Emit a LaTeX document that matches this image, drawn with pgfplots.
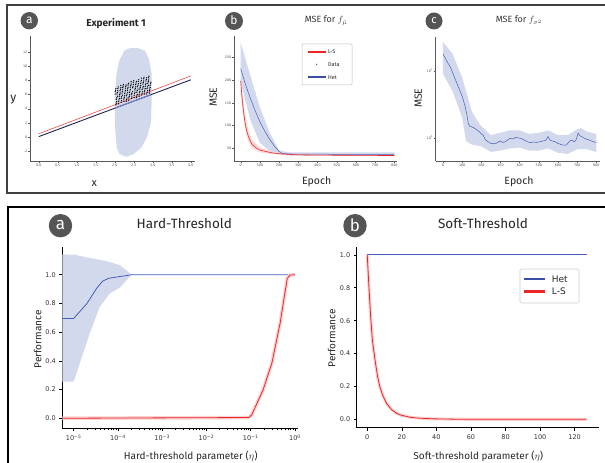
\documentclass[border=0pt]{standalone}
\usepackage{fontspec}
\setmainfont{Fira Sans}
\newfontfamily\tickfont{DejaVu Sans}
\usepackage{pgfplots}
\pgfplotsset{compat=1.18}

\definecolor{hetblue}{RGB}{58,78,168}
\definecolor{lineblue}{RGB}{70,92,188}
\definecolor{bandblue}{RGB}{211,217,236}
\definecolor{lsred}{RGB}{236,38,38}
\definecolor{bandred}{RGB}{250,208,208}
\definecolor{badge}{RGB}{85,85,85}
\definecolor{navy}{RGB}{28,34,82}

\pgfplotsset{
  topax/.style={scale only axis, anchor=south west,
    axis x line*=bottom, axis y line*=left, tick align=outside,
    major tick length=1.6pt, minor tick length=1pt,
    axis line style={black!65, line width=0.5pt},
    tick style={black!65, line width=0.4pt},
    tick label style={font=\tickfont\fontsize{3.3}{3.5}\selectfont, text=black!70, inner sep=1pt},
    /pgf/number format/assume math mode=true},
  botax/.style={scale only axis, anchor=south west,
    axis x line*=bottom, axis y line*=left, tick align=outside,
    major tick length=3pt, minor tick length=2pt,
    axis line style={black, line width=0.8pt},
    tick style={black, line width=0.6pt},
    tick label style={font=\tickfont\fontsize{6.5}{7}\selectfont, text=black!80},
    /pgf/number format/assume math mode=true},
}

% scatter of the data cloud in panel (a), estimated from the figure
\usepackage{pgfplotstable}
\pgfplotstableread{
x y
2.24 5.07
2.01 6.08
2.73 6.40
2.49 7.41
2.26 5.83
2.03 6.85
2.75 7.16
2.51 5.58
2.28 6.59
2.05 5.01
2.76 7.92
2.53 6.34
2.30 7.36
2.07 5.77
2.78 6.09
2.55 7.10
2.32 5.52
2.08 6.54
2.80 6.85
2.57 7.87
2.34 6.28
2.10 4.70
2.82 7.61
2.59 6.03
2.35 7.05
2.12 5.46
2.84 8.38
2.61 6.79
2.37 5.21
2.14 6.23
2.86 6.54
2.62 7.56
2.39 5.97
2.16 6.99
2.88 7.31
2.64 5.72
2.41 6.74
2.18 5.15
2.89 8.07
2.66 6.48
2.43 7.50
2.20 5.92
2.91 6.23
2.68 7.25
2.45 5.66
2.21 6.68
2.93 7.00
2.70 8.01
2.47 6.43
2.23 7.44
2.95 7.76
2.72 6.17
2.48 7.19
2.25 5.61
2.02 6.62
2.74 6.94
2.50 7.95
2.27 6.37
2.04 4.79
2.75 7.70
2.52 6.12
2.29 7.13
2.05 5.55
2.77 8.46
2.54 6.88
2.31 5.30
2.07 6.31
2.79 6.63
2.56 7.64
2.32 6.06
2.09 7.08
2.81 7.39
2.58 5.81
2.34 6.82
2.11 5.24
2.83 8.15
2.59 6.57
2.36 7.59
2.13 6.00
2.85 6.32
2.61 7.33
2.38 5.75
2.15 6.77
2.86 7.08
2.63 8.10
2.40 6.51
2.17 4.93
2.88 7.84
2.65 6.26
2.42 7.28
2.18 5.69
2.90 8.61
2.67 7.02
2.44 5.44
2.20 6.46
2.92 6.77
2.69 7.79
2.45 6.20
2.22 7.22
2.94 7.53
2.71 5.95
2.47 6.97
2.24 5.38
2.01 6.40
2.72 6.71
2.49 7.73
2.26 6.15
2.03 4.56
2.74 7.48
2.51 5.89
2.28 6.91
2.04 5.32
2.76 8.24
2.53 6.66
2.30 5.07
2.06 6.09
2.78 6.40
2.55 7.42
2.31 5.84
2.08 6.85
2.80 7.17
2.57 5.58
2.33 6.60
2.10 5.01
2.82 7.93
2.58 6.35
2.35 7.36
2.12 5.78
2.84 6.09
2.60 7.11
2.37 5.53
2.14 6.54
2.85 6.86
2.62 7.87
2.39 6.29
2.16 7.30
2.87 7.62
2.64 6.04
2.41 7.05
2.17 5.47
2.89 8.38
2.66 6.80
2.43 7.82
2.19 6.23
2.91 6.55
2.68 7.56
2.44 5.98
2.21 6.99
2.93 7.31
2.70 8.33
}\cloud

\begin{document}
\begin{tikzpicture}[x=1pt,y=1pt]
\path[use as bounding box] (0,0) rectangle (605,463);

% frames
\draw[line width=2pt, black!75] (606,270) -- (7,270) -- (7,458) -- (606,458);
\draw[line width=2pt, black] (8,-10) -- (8,256) -- (606,256);

% ---------- top a ----------
\begin{axis}[topax, at={(30pt,302pt)}, width=165pt, height=125pt,
  xmin=-0.229, xmax=4.11, ymin=-3.4, ymax=14.3,
  xtick={0,0.5,...,4}, ytick={-2,0,2,4,6,8,10,12},
  xticklabel={\pgfmathprintnumber[fixed,fixed zerofill,precision=1]{\tick}}]
\addplot[fill=bandblue, draw=none] coordinates {
 (2.05,-1.5) (2.12,-2.4) (2.3,-2.8) (2.5,-2.4) (2.7,-1.5) (2.85,0) (2.95,2)
 (2.97,5) (2.97,9) (2.9,11) (2.8,12.2) (2.6,12.6) (2.4,12.6) (2.25,12.2)
 (2.12,10.8) (2.05,9) (2.0,6) (2.0,2) (2.02,0.5)} -- cycle;
\addplot[navy, line width=0.9pt] coordinates {(0,0.05) (4,8.1)};
\addplot[lsred!85, line width=0.6pt] coordinates {(0,0.45) (4,8.65)};
\addplot[lineblue!75, line width=0.9pt] coordinates {(2.0,4.08) (2.95,5.99)};
\addplot[only marks, mark=*, mark size=0.4pt, mark options={draw=none, fill=black!55}] table {\cloud};
\end{axis}

% ---------- top b ----------
\begin{axis}[topax, at={(234pt,302pt)}, width=163pt, height=125pt,
  xmin=-35, xmax=814, ymin=22, ymax=297,
  xtick={0,100,...,800}, ytick={50,100,150,200,250}]
% Het band: upper edge then lower edge reversed
\addplot[fill=bandblue, draw=none] coordinates {
 (0,282) (50,210) (100,140) (150,85) (200,45) (250,41) (800,41)
 (800,33) (250,34) (200,37) (150,44) (100,62) (50,112) (0,195)} -- cycle;
% L-S band
\addplot[fill=bandred, fill opacity=0.85, draw=none] coordinates {
 (0,200) (10,165) (22,125) (40,90) (60,68) (100,52) (150,44) (213,39) (300,37) (800,36)
 (800,32.5) (300,33.5) (213,35.5) (150,38) (100,41) (60,50) (40,65) (22,95) (10,130) (0,175)} -- cycle;
\addplot[lineblue, line width=0.5pt] coordinates {
 (0,225) (25,190) (50,160) (75,133) (100,108) (125,88) (150,70) (175,55) (200,43) (215,38.5) (250,37.5) (300,37) (800,36.5)};
\addplot[lsred, line width=0.6pt] coordinates {
 (0,198) (5,170) (10,148) (15,130) (22,108) (30,90) (40,76) (48,68) (60,58) (83,50) (100,46) (135,42.5) (170,39.5) (213,37.5) (300,35.5) (370,35) (800,34)};
\end{axis}

% ---------- top c ----------
\begin{axis}[topax, at={(435.7pt,302pt)}, width=164.3pt, height=124pt,
  ymode=log, xmin=-38, xmax=819, ymin=0.454, ymax=32.1,
  xtick={0,100,...,800}, ytick={1,10},
  yticklabels={10\textsuperscript{0},10\textsuperscript{1}}]
\addplot[fill=bandblue, draw=none] coordinates {
 (0,27) (50,18) (100,8) (130,4) (150,2.5) (180,1.8) (200,1.5) (250,1.1) (300,1.2) (350,1.3) (400,1.3)
 (450,1.15) (500,1.2) (550,1.3) (600,1.1) (650,1.1) (700,1.35) (720,1.4) (750,1.25) (800,1.15)
 (800,0.62) (750,0.68) (700,0.68) (650,0.58) (600,0.6) (550,0.7) (500,0.65) (450,0.65) (400,0.72)
 (350,0.7) (300,0.65) (250,0.62) (200,0.75) (150,0.8) (120,0.9) (100,2.0) (50,5) (0,9)} -- cycle;
\addplot[lineblue, line width=0.5pt] coordinates {
 (0,17.9) (20,14.0) (40,11.2) (60,8.0) (80,5.8) (100,4.2) (115,3.0) (125,2.2) (132,1.65) (140,1.50)
 (160,1.43) (180,1.30) (190,1.24) (200,1.15) (210,1.10) (220,0.95) (235,0.88) (250,0.83) (265,0.82)
 (280,0.84) (290,0.88) (300,0.90) (310,0.86) (320,0.87) (335,0.92) (350,0.99) (365,0.97) (380,1.02)
 (395,1.0) (410,0.98) (425,0.93) (440,0.88) (455,0.85) (470,0.87) (490,0.86) (505,0.88) (520,0.90)
 (535,0.92) (548,1.05) (555,0.95) (570,0.90) (585,0.88) (600,0.83) (615,0.80) (630,0.78) (645,0.79)
 (660,0.90) (672,0.93) (685,0.88) (695,0.95) (705,1.18) (715,1.08) (730,1.02) (745,0.97) (760,0.94)
 (775,0.90) (790,0.87) (800,0.86)};
\end{axis}

% ---------- bottom a ----------
\begin{axis}[botax, at={(62.3pt,34.7pt)}, width=235.7pt, height=181.6pt,
  xmode=log, xmin=5.53e-6, xmax=1.17, ymin=-0.07, ymax=1.195,
  xtick={1e-5,1e-4,1e-3,1e-2,1e-1,1},
  xticklabels={10\textsuperscript{−5},10\textsuperscript{−4},10\textsuperscript{−3},10\textsuperscript{−2},10\textsuperscript{−1},10\textsuperscript{0}},
  ytick={0,0.2,...,1.0},
  yticklabel={\pgfmathprintnumber[fixed,fixed zerofill,precision=1]{\tick}}]
\addplot[fill=bandblue, draw=none] coordinates {
 (5.53e-6,1.141) (1e-5,1.14) (2e-5,1.12) (5.4e-5,1.095) (1.1e-4,1.067) (2.05e-4,1.0)
 (1.1e-4,0.91) (6.6e-5,0.87) (3.9e-5,0.777) (2.3e-5,0.59) (1e-5,0.255) (5.53e-6,0.255)} -- cycle;
\addplot[lineblue, line width=0.8pt] coordinates {
 (5.53e-6,0.695) (1e-5,0.695) (2e-5,0.80) (3.3e-5,0.905) (4.5e-5,0.955) (6.2e-5,0.975) (1e-4,0.985) (2.1e-4,1.0) (1,1.0)};
\addplot[bandred, line width=3.5pt] coordinates {
 (5.53e-6,0) (0.09,0.005) (0.105,0.023) (0.19,0.197) (0.3,0.383) (0.46,0.66) (0.59,0.87) (0.67,0.974) (0.77,0.997) (1,1.0)};
\addplot[lsred, line width=0.8pt] coordinates {
 (5.53e-6,0) (0.09,0.005) (0.105,0.023) (0.19,0.197) (0.3,0.383) (0.46,0.66) (0.59,0.87) (0.67,0.974) (0.77,0.997) (1,1.0)};
\end{axis}

% ---------- bottom b ----------
\begin{axis}[botax, at={(356.7pt,35.3pt)}, width=242.3pt, height=181pt,
  xmin=-6.1, xmax=134.1, ymin=-0.051, ymax=1.05,
  xtick={0,20,...,120}, ytick={0,0.2,...,1.0},
  yticklabel={\pgfmathprintnumber[fixed,fixed zerofill,precision=1]{\tick}}]
\addplot[lineblue, line width=0.9pt] coordinates {(0,1.0) (127,1.0)};
\addplot[bandred, line width=3pt] coordinates {
 (0,1.0) (1,0.80) (2,0.62) (3,0.48) (4.5,0.36) (6,0.26) (7.3,0.198) (9,0.145) (11.2,0.097) (14,0.06)
 (17,0.036) (20,0.024) (25,0.012) (30,0.007) (38,0.003) (50,0.001) (60,0) (127,0)};
\addplot[lsred, line width=0.8pt] coordinates {
 (0,1.0) (1,0.80) (2,0.62) (3,0.48) (4.5,0.36) (6,0.26) (7.3,0.198) (9,0.145) (11.2,0.097) (14,0.06)
 (17,0.036) (20,0.024) (25,0.012) (30,0.007) (38,0.003) (50,0.001) (60,0) (127,0)};
\end{axis}

% ---------- legends ----------
\draw[black!25, line width=0.5pt, rounded corners=1pt, fill=white] (302,378) rectangle (352,419);
\draw[lsred, line width=2pt] (308.3,411.3) -- (326,411.3);
\node[anchor=west, inner sep=0pt, font=\fontsize{5.5}{6}\selectfont, text=black!85] at (328,411.3) {L-S};
\fill[black!80] (316.7,398.7) circle (0.6);
\node[anchor=west, inner sep=0pt, font=\fontsize{5.5}{6}\selectfont, text=black!85] at (328,398.7) {Data};
\draw[hetblue, line width=2pt] (308.3,385.7) -- (326,385.7);
\node[anchor=west, inner sep=0pt, font=\fontsize{5.5}{6}\selectfont, text=black!85] at (328,385.7) {Het};

\draw[black!20, line width=0.6pt, rounded corners=1.5pt, fill=white] (520,160) rectangle (579,194);
\draw[hetblue, line width=2.5pt] (524,184) -- (545,184);
\node[anchor=west, inner sep=0pt, font=\tickfont\fontsize{9}{10}\selectfont, text=black!85] at (551.7,184) {Het};
\draw[lsred, line width=2.5pt] (524,171.3) -- (545,171.3);
\node[anchor=west, inner sep=0pt, font=\tickfont\fontsize{9}{10}\selectfont, text=black!85] at (551.7,171.3) {L-S};

% ---------- badges ----------
\foreach \bx/\by/\br/\bl/\bs in {29.3/442.3/8.7/a/12, 234/442/9/b/12, 434/442/8.5/c/11, 60.5/237.3/11.7/a/17, 355/237.3/11.7/b/17}{
  \fill[badge] (\bx,\by) circle[radius=\br];
  \node[white, font=\fontsize{\bs}{\bs}\selectfont, inner sep=0pt] at (\bx,\by+0.5) {\bl};
}

% ---------- titles and labels ----------
\node[font=\bfseries\fontsize{10}{12}\selectfont, text=black!85] at (116,439.3) {Experiment 1};
\node[font=\fontsize{9}{11}\selectfont, text=black!80] at (326,442.3) {MSE for $f_{\hat{\mu}}$};
\node[font=\fontsize{9}{11}\selectfont, text=black!80] at (519,442.5) {MSE for $f_{\sigma^2}$};
\node[font=\fontsize{13.5}{15}\selectfont, text=black!85] at (184.3,239) {Hard-Threshold};
\node[font=\fontsize{13.5}{15}\selectfont, text=black!85] at (483,239) {Soft-Threshold};

\node[font=\fontsize{12}{14}\selectfont, text=black!85] at (13.3,363) {y};
\node[font=\fontsize{11}{13}\selectfont, text=black!85] at (94.3,279.7) {x};
\node[rotate=90, font=\fontsize{10.5}{12}\selectfont, text=black!85] at (213.3,365.7) {MSE};
\node[font=\fontsize{10.5}{12}\selectfont, text=black!85] at (316.7,281.3) {Epoch};
\node[rotate=90, font=\fontsize{10.5}{12}\selectfont, text=black!85] at (418.3,364.7) {MSE};
\node[font=\fontsize{10.5}{12}\selectfont, text=black!85] at (519,281.3) {Epoch};
\node[rotate=90, font=\fontsize{10}{12}\selectfont, text=black!85] at (37.7,123.7) {Performance};
\node[font=\fontsize{10}{12}\selectfont, text=black!85] at (190.7,6.3) {Hard-threshold parameter ($\eta$)};
\node[rotate=90, font=\fontsize{10}{12}\selectfont, text=black!85] at (331.7,124.7) {Performance};
\node[font=\fontsize{10}{12}\selectfont, text=black!85] at (478.3,6.3) {Soft-threshold parameter ($\eta$)};
\end{tikzpicture}
\end{document}
